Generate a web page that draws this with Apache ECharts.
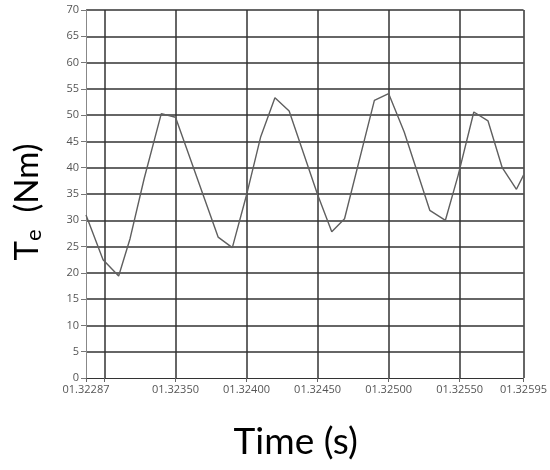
<!DOCTYPE html>
<html>
<head>
<meta charset="utf-8">
<script src="https://cdn.jsdelivr.net/npm/echarts@6/dist/echarts.min.js"></script>
<style>
  html, body { margin: 0; padding: 0; background: #fff; }
  #chart { width: 550px; height: 470px; }
</style>
</head>
<body>
<div id="chart"></div>
<script>
// sample times (s) and electromagnetic torque (Nm)
const timeValues = [
  1.32287, 1.32299, 1.32310, 1.32318, 1.32328, 1.32340, 1.32350, 1.32380, 1.32390,
  1.32400, 1.32410, 1.32420, 1.32430, 1.32450, 1.32460, 1.32469, 1.32490, 1.32500,
  1.32511, 1.32529, 1.32540, 1.32549, 1.32560, 1.32570, 1.32580, 1.32590, 1.32595
]
const torqueValues = [
  31.0, 22.5, 19.4, 26.5, 38.0, 50.3, 49.6, 26.8, 24.8,
  34.8, 45.9, 53.3, 50.8, 34.9, 27.8, 30.3, 52.8, 54.1,
  46.8, 31.9, 30.0, 38.6, 50.6, 48.9, 40.0, 35.9, 38.6
]

// x ticks / labels
const xTickValues = [1.32287, 1.32300, 1.32350, 1.32400, 1.32450, 1.32500, 1.32550, 1.32595]
const xLabelValues = [1.32287, 1.32350, 1.32400, 1.32450, 1.32500, 1.32550, 1.32595]

const chart = echarts.init(document.getElementById('chart'), null, { renderer: 'canvas' })

const gridColor = '#333'
const labelColor = '#555'

chart.setOption({
  animation: false,
  backgroundColor: '#fff',
  grid: { left: 86, right: 24, top: 10, bottom: 92, containLabel: false },
  xAxis: {
    type: 'value',
    min: 1.32287,
    max: 1.32595,
    name: 'Time (s)',
    nameLocation: 'middle',
    nameGap: 46,
    nameTextStyle: { fontFamily: 'Lato', fontSize: 37, color: '#000', padding: [0, 18, 0, 0] },
    axisLine: { show: true, lineStyle: { color: '#333', width: 1 } },
    axisTick: { show: true, customValues: xTickValues, length: 4, lineStyle: { color: '#666' } },
    axisLabel: {
      customValues: xLabelValues,
      formatter: v => '0' + v.toFixed(5),
      color: labelColor,
      fontFamily: 'Open Sans',
      fontSize: 11,
      margin: 6
    },
    splitLine: { show: true, showMinLine: false, lineStyle: { color: gridColor, width: 1.5 } }
  },
  yAxis: {
    type: 'value',
    min: 0,
    max: 70,
    interval: 5,
    name: '{t|T}{s|e}{t|  (Nm)}',
    nameLocation: 'middle',
    nameRotate: 90,
    nameGap: 41,
    nameTextStyle: {
      color: '#000',
      padding: [0, 16, 0, 0],
      rich: {
        t: { fontFamily: 'Lato', fontSize: 33, lineHeight: 36, color: '#000' },
        s: { fontFamily: 'Lato', fontSize: 22, lineHeight: 31, verticalAlign: 'bottom', color: '#000' }
      }
    },
    axisLine: { show: true, lineStyle: { color: '#888', width: 1 } },
    axisTick: { show: true, length: 5, lineStyle: { color: '#777' } },
    axisLabel: { color: labelColor, fontFamily: 'Open Sans', fontSize: 11, margin: 7 },
    splitLine: { show: true, showMinLine: false, lineStyle: { color: gridColor, width: 1.5 } }
  },
  series: [{
    type: 'line',
    data: timeValues.map((t, i) => [t, torqueValues[i]]),
    symbol: 'none',
    lineStyle: { color: '#5f5f5f', width: 1.4 },
    z: 3
  }]
})
</script>
</body>
</html>
